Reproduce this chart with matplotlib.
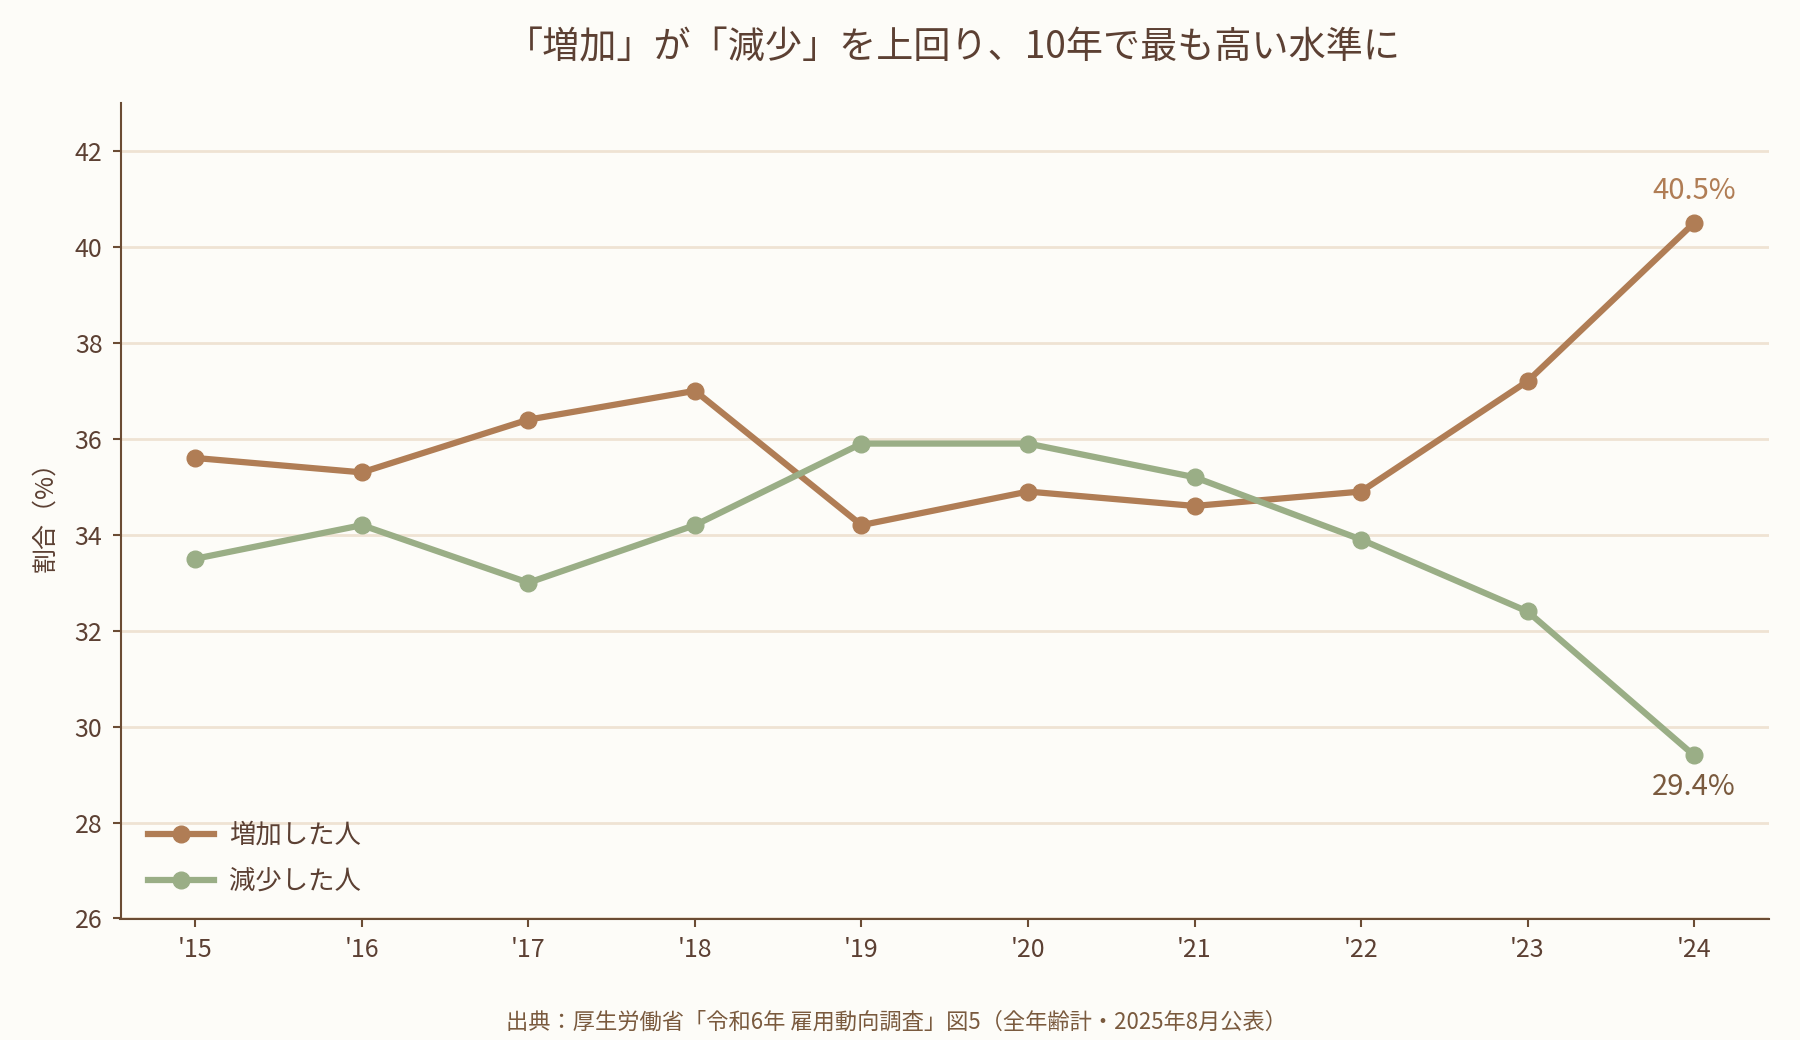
import matplotlib
matplotlib.use("Agg")
import matplotlib.pyplot as plt

plt.rcParams['font.family'] = ['Noto Sans CJK JP', 'DejaVu Sans']

years = ["'15", "'16", "'17", "'18", "'19", "'20", "'21", "'22", "'23", "'24"]
increase = [35.6, 35.3, 36.4, 37.0, 34.2, 34.9, 34.6, 34.9, 37.2, 40.5]
decrease = [33.5, 34.2, 33.0, 34.2, 35.9, 35.9, 35.2, 33.9, 32.4, 29.4]
yticks = [26, 28, 30, 32, 34, 36, 38, 40, 42]

BG = '#FDFCF8'
TXT = '#5C4033'
SPINE = '#6B4C34'
C_INC = '#B07D55'
C_DEC = '#9AAE86'
GRID = '#EFE3D3'

fig = plt.figure(figsize=(18, 10.4), dpi=100, facecolor=BG)
ax = fig.add_axes([120.5/1800, 1 - 918.5/1040, (1769-120.5)/1800, (918.5-103)/1040])
ax.set_facecolor(BG)

x = list(range(len(years)))
ax.plot(x, increase, color=C_INC, lw=4.5, marker='o', ms=12, label='増加した人', zorder=3)
ax.plot(x, decrease, color=C_DEC, lw=4.5, marker='o', ms=12, label='減少した人', zorder=3)

ax.set_xlim(-0.45, 9.45)
ax.set_ylim(26, 43)
ax.set_xticks(x)
ax.set_xticklabels(years)
ax.set_yticks(yticks)
ax.grid(axis='y', color=GRID, lw=2, zorder=0)
ax.set_axisbelow(True)

for s in ['top', 'right']:
    ax.spines[s].set_visible(False)
for s in ['left', 'bottom']:
    ax.spines[s].set_color(SPINE)
    ax.spines[s].set_linewidth(1.5)
ax.tick_params(colors=TXT, labelsize=18, length=6, width=1.5, color=SPINE, pad=7)

ax.set_ylabel('割合（%）', color=TXT, fontsize=18, labelpad=12)

ax.annotate(f'{increase[-1]}%', (x[-1], increase[-1]), xytext=(0, 23), textcoords='offset points',
            ha='center', va='center', color=C_INC, fontsize=21)
ax.annotate(f'{decrease[-1]}%', (x[-1], decrease[-1]), xytext=(0, -23), textcoords='offset points',
            ha='center', va='center', color='#7A5A3E', fontsize=21)

leg = ax.legend(loc='lower left', bbox_to_anchor=(0.002, 0.0), frameon=False, fontsize=19,
                labelcolor=TXT, handlelength=2.5, handletextpad=0.6, labelspacing=0.72)

fig.text(953/1800, 1 - 48/1040, '「増加」が「減少」を上回り、10年で最も高い水準に', ha='center', va='center',
         fontsize=26.7, color=TXT)
fig.text(897/1800, 1 - 1022/1040, '出典：厚生労働省「令和6年 雇用動向調査」図5（全年齢計・2025年8月公表）',
         ha='center', va='center', fontsize=16, color='#7A5A3E')

fig.savefig('out.png', dpi=100, facecolor=BG)
